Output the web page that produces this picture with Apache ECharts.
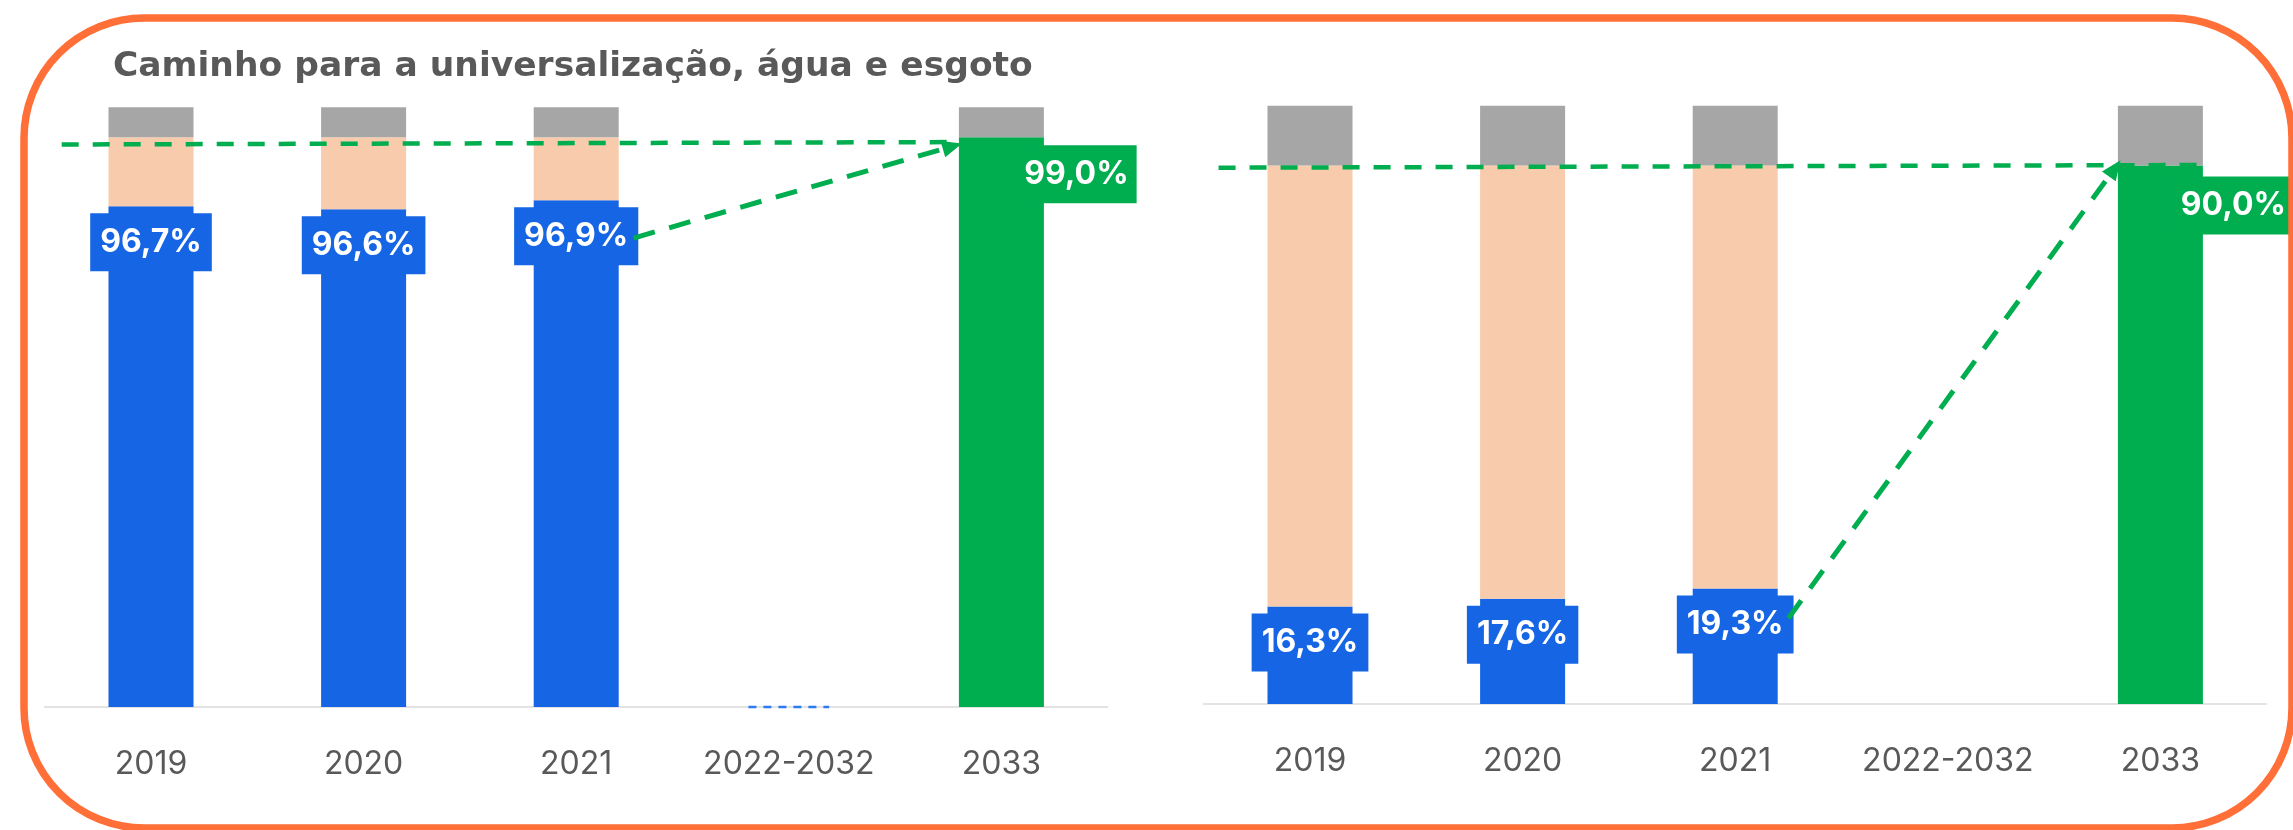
<!DOCTYPE html>
<html><head><meta charset="utf-8">
<script src="https://cdn.jsdelivr.net/npm/echarts@6/dist/echarts.min.js"></script>
<style>html,body{margin:0;padding:0;background:#fff}#c{width:2293px;height:830px}</style>
</head><body><div id="c"></div>
<script>
// ---------- data ----------
const chartTitle = 'Caminho para a universalização, água e esgoto';
const categories = ['2019', '2020', '2021', '2022-2032', '2033'];
const targetIndex = 4; // 2033

// Água (left panel)
const aguaReal = [96.7, 96.6, 96.9, null, null];
const aguaMeta = 99.0;
const aguaAxisRange = [80, 100];
// Esgoto (right panel)
const esgotoReal = [16.3, 17.6, 19.3, null, null];
const esgotoMeta = 90.0;
const esgotoAxisRange = [0, 100];

// guide lines: [category position, value]
const aguaGuide = [[-0.42, 98.76], [3.80, 98.84]];
const aguaArrow = [[2.27, 95.64], [3.77, 98.70]];
const aguaGap = [[2.81, 80], [3.19, 80]];
const esgotoGuide = [[-0.43, 89.64], [4.20, 90.09]];
const esgotoArrow = [[2.25, 14.32], [3.785, 89.54]];

// ---------- style ----------
const C = {blue: '#1565E4', peach: '#F7CBAC', gray: '#A6A6A6', green: '#00AD4F',
  orange: '#FF6F37', text: '#595959', axis: '#DADADA', gapBlue: '#2D7BF0'};
const fmt = v => v.toFixed(1).replace('.', ',') + '%';
const labelBase = {show: true, color: '#fff', fontFamily: 'Inter', fontWeight: 'bold',
  fontSize: 32, lineHeight: 38, padding: [10, 10], formatter: p => fmt(p.value)};

const grids = [
  {left: 44.7, width: 1063, top: 107.3, height: 599.7},
  {left: 1203.7, width: 1063, top: 105.7, height: 598.3}
];
const xAxes = [], yAxes = [], series = [];

function panel(gi, real, meta, range, guide, arrow, gap, greenOffset, greenDist) {
  const cx = gi * 2, vx = gi * 2 + 1;
  xAxes.push({type: 'category', gridIndex: gi, data: categories,
    axisLine: {show: true, lineStyle: {color: C.axis, width: 1.5}},
    axisTick: {show: false},
    axisLabel: {interval: 0, color: C.text, fontFamily: 'Inter', fontSize: 32, margin: 41}});
  xAxes.push({type: 'value', gridIndex: gi, min: -0.5, max: 4.5, show: false});
  yAxes.push({type: 'value', gridIndex: gi, min: range[0], max: range[1], show: false,
    splitLine: {show: false}});
  const stack = 's' + gi;
  const common = {type: 'bar', xAxisIndex: cx, yAxisIndex: gi, stack, barWidth: 85, silent: true};
  series.push(Object.assign({}, common, {name: 'real', data: real,
    itemStyle: {color: C.blue},
    label: Object.assign({}, labelBase, {position: 'insideTop', distance: 7, backgroundColor: C.blue})}));
  series.push(Object.assign({}, common, {name: 'meta',
    data: categories.map((c, i) => i === targetIndex ? meta : null),
    itemStyle: {color: C.green},
    label: Object.assign({}, labelBase, {position: 'insideTop', distance: greenDist,
      offset: [greenOffset, 0], backgroundColor: C.green, padding: [10, 8]})}));
  series.push(Object.assign({}, common, {name: 'falta',
    data: real.map(v => v == null ? null : +(meta - v).toFixed(1)),
    itemStyle: {color: C.peach}}));
  series.push(Object.assign({}, common, {name: 'resto',
    data: categories.map((c, i) => (real[i] != null || i === targetIndex) ? +(range[1] - meta).toFixed(1) : null),
    itemStyle: {color: C.gray}}));
  series.push({type: 'line', xAxisIndex: vx, yAxisIndex: gi, data: guide, symbol: 'none',
    clip: false, silent: true, z: 5,
    lineStyle: {color: C.green, width: 4.5, type: [17, 14]}});
  series.push({type: 'line', xAxisIndex: vx, yAxisIndex: gi, data: [], symbol: 'none', z: 5,
    silent: true,
    markLine: {silent: true, symbol: ['none', 'triangle'], symbolSize: [17, 20],
      label: {show: false},
      lineStyle: {color: C.green, width: 5, type: [22, 15]},
      emphasis: {disabled: true},
      data: [[{coord: arrow[0]}, {coord: arrow[1]}]]}});
  if (gap) {
    series.push({type: 'line', xAxisIndex: vx, yAxisIndex: gi, data: gap, symbol: 'none',
      clip: false, silent: true, z: 5,
      lineStyle: {color: C.gapBlue, width: 2.5, type: [8, 7]}});
  }
}
panel(0, aguaReal, aguaMeta, aguaAxisRange, aguaGuide, aguaArrow, aguaGap, 75, 8);
panel(1, esgotoReal, esgotoMeta, esgotoAxisRange, esgotoGuide, esgotoArrow, null, 73, 11);

const chart = echarts.init(document.getElementById('c'), null, {renderer: 'canvas'});
chart.setOption({
  animation: false,
  backgroundColor: '#fff',
  title: {text: chartTitle, left: 113, top: 50, padding: 0,
    textStyle: {fontFamily: 'DejaVu Sans', fontWeight: 'bold', fontSize: 34.5, color: C.text}},
  graphic: [{type: 'rect', z: 100, silent: true,
    shape: {x: 24, y: 18, width: 2268, height: 810, r: 120},
    style: {fill: 'none', stroke: C.orange, lineWidth: 7.5}}],
  grid: grids,
  xAxis: xAxes,
  yAxis: yAxes,
  series
});
</script></body></html>
